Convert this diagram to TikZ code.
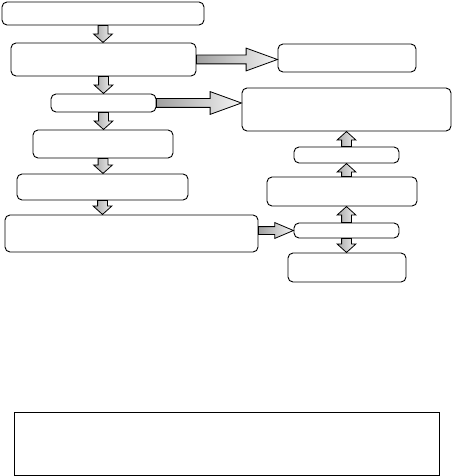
\documentclass[tikz,border=0pt]{standalone}
\usetikzlibrary{shapes.arrows}
\tikzset{box/.style={draw, rounded corners=5pt, line width=0.9pt,
  inner sep=0pt},
  harrow/.style={single arrow, draw, line width=0.8pt, inner xsep=0pt,
  inner ysep=4pt, minimum width=0pt, single arrow head extend=7pt,
  single arrow tip angle=40, left color=gray!75, right color=gray!8,
  minimum height=#1, pos=0, anchor=tail, outer sep=0pt},
  varrow/.style={single arrow, draw, line width=0.8pt, inner xsep=0pt,
  inner ysep=4.5pt, minimum width=0pt, single arrow head extend=4.5pt,
  single arrow tip angle=96, left color=gray!70, right color=gray!10,
  minimum height=#1, pos=0, anchor=tail, outer sep=0pt}}

\begin{document}
\begin{tikzpicture}[x=1pt, y=-1pt]
  \useasboundingbox (0,0) rectangle (454,476);
  % left column
  \node[box, minimum width=202pt, minimum height=23pt] (b1) at (103,13.5) {};
  \node[box, minimum width=185pt, minimum height=33pt] (b2) at (103.5,59.5) {};
  \node[box, minimum width=105pt, minimum height=18pt] (b3) at (103.5,103) {};
  \node[box, minimum width=140pt, minimum height=28pt] (b4) at (103,144) {};
  \node[box, minimum width=171pt, minimum height=26pt] (b5) at (102.5,187) {};
  \node[box, minimum width=253pt, minimum height=37pt] (b6) at (131.5,233.5) {};
  % right column
  \node[box, minimum width=138pt, minimum height=28pt] (r1) at (347,58) {};
  \node[box, minimum width=209pt, minimum height=43pt] (r2) at (346.5,109.5) {};
  \node[box, minimum width=105pt, minimum height=16pt] (r3) at (346.5,155) {};
  \node[box, minimum width=150pt, minimum height=29pt] (r4) at (342,191.5) {};
  \node[box, minimum width=105pt, minimum height=15pt] (r5) at (346.5,230.5) {};
  \node[box, minimum width=118pt, minimum height=29pt] (r6) at (347,267.5) {};
  % bottom frame
  \node[draw, line width=0.9pt, minimum width=425pt, minimum height=63pt,
    inner sep=0pt] (note) at (226.5,443.5) {};
  % down arrows, left column
  \path (b1.south) -- node[varrow=17pt, rotate=-90] {} (b2.north);
  \path (b2.south) -- node[varrow=17pt, rotate=-90] {} (b3.north);
  \path (b3.south) -- node[varrow=17pt, rotate=-90] {} (b4.north);
  \path (b4.south) -- node[varrow=15pt, rotate=-90] {} (b5.north);
  \path (b5.south) -- node[varrow=14pt, rotate=-90] {} (b5.south |- b6.north);
  % arrows to the right
  \path (b2.east) -- node[harrow=81pt] {} (r1.west);
  \path (b3.east) -- node[harrow=85pt] {} (b3.east -| r2.west);
  \path (b6.east |- r5.west) -- node[harrow=35pt, inner ysep=3.5pt,
    single arrow head extend=4pt, single arrow tip angle=46] {} (r5.west);
  % right column
  \path (r3.north) -- node[varrow=15pt, rotate=90] {} (r2.south -| r3.north);
  \path (r4.north -| r3.north) -- node[varrow=13pt, rotate=90] {} (r3.south);
  \path (r5.north) -- node[varrow=16pt, rotate=90] {} (r4.south -| r5.north);
  \path (r5.south) -- node[varrow=14pt, rotate=-90] {} (r6.north -| r5.south);
\end{tikzpicture}
\end{document}
